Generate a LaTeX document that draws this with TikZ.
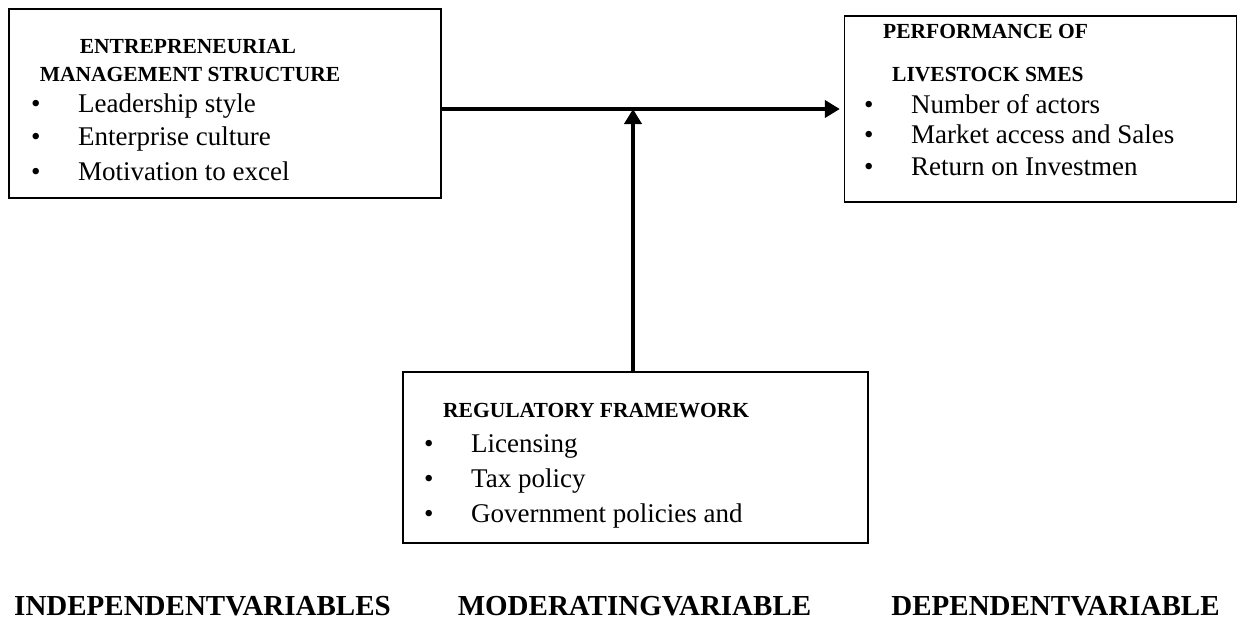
\documentclass[tikz,border=0pt]{standalone}
\usepackage{fontspec}
\setmainfont{Liberation Serif}
\usetikzlibrary{arrows.meta}
\tikzset{
  varbox/.style={draw,line width=1.3pt,inner sep=0pt},
  boxhead/.style={anchor=base,inner sep=0pt,font=\fontsize{21.5}{24}\selectfont\bfseries},
  boxitem/.style={anchor=base west,inner sep=0pt,font=\fontsize{27}{30}\selectfont},
  varlabel/.style={anchor=base,inner sep=0pt,font=\fontsize{29}{32}\selectfont\bfseries},
  link/.style={line width=4.5pt,-{Triangle[length=15pt,width=17pt]}}
}
\newcommand{\bulitem}[1]{\makebox[47pt][l]{\textbullet}#1}
\begin{document}
\begin{tikzpicture}[x=1pt,y=-1pt]
\useasboundingbox (0,0) rectangle (1240,621);
% independent variable
\node[varbox,minimum width=432,minimum height=189] (ems) at (225,103.5) {};
\node[boxhead] (emsA) at (188,53) {ENTREPRENEURIAL};
\node[boxhead] (emsB) at (190,81) {MANAGEMENT STRUCTURE};
\node[boxitem] (ems1) at (31,112) {\bulitem{Leadership style}};
\node[boxitem] (ems2) at (31,145) {\bulitem{Enterprise culture}};
\node[boxitem] (ems3) at (31,180) {\bulitem{Motivation to excel}};
% dependent variable
\node[varbox,minimum width=392,minimum height=186] (perf) at (1040.5,109) {};
\node[boxhead,anchor=base west] (perfA) at (883,38) {PERFORMANCE OF};
\node[boxhead,anchor=base west] (perfB) at (892,81) {LIVESTOCK SMES};
\node[boxitem] (perf1) at (864,113) {\bulitem{Number of actors}};
\node[boxitem] (perf2) at (864,143) {\bulitem{Market access and Sales}};
\node[boxitem] (perf3) at (864,175) {\bulitem{Return on Investmen}};
% moderating variable
\node[varbox,minimum width=465,minimum height=171] (reg) at (635.5,457.5) {};
\node[boxhead,anchor=base west] (regA) at (443,417) {REGULATORY FRAMEWORK};
\node[boxitem] (reg1) at (424,452) {\bulitem{Licensing}};
\node[boxitem] (reg2) at (424,487) {\bulitem{Tax policy}};
\node[boxitem] (reg3) at (424,522) {\bulitem{Government policies and}};
% arrows
\coordinate (jn) at (633,109);
\draw[link] (ems.east |- jn) -- ([xshift=-4pt]perf.west |- jn);
\draw[link] (reg.north -| jn) -- (jn);
% variable labels
\node[varlabel] (indep) at (202.5,615) {INDEPENDENTVARIABLES};
\node[varlabel] (moder) at (634.5,615) {MODERATINGVARIABLE};
\node[varlabel] (depen) at (1055.5,615) {DEPENDENTVARIABLE};
\end{tikzpicture}
\end{document}
